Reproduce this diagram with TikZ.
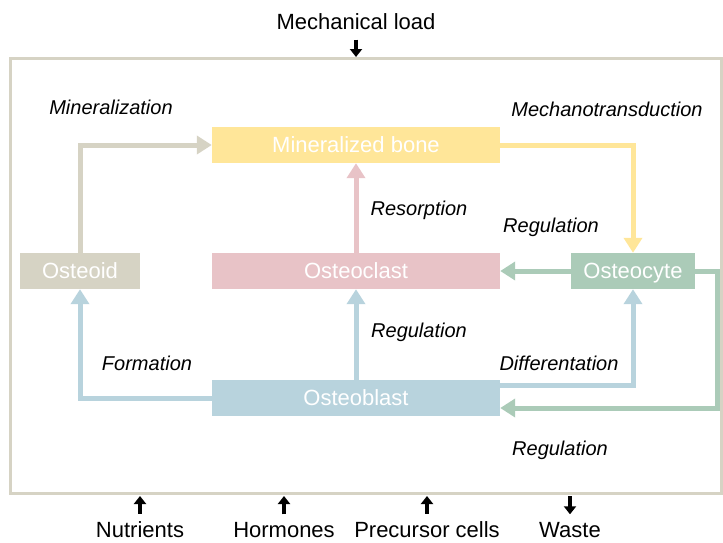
\documentclass[tikz,border=0pt]{standalone}
\usepackage{fontspec}
\setmainfont{Liberation Sans}
\usetikzlibrary{arrows.meta,positioning,calc}
\definecolor{oidcol}{HTML}{D6D3C4}
\definecolor{bonecol}{HTML}{FFE699}
\definecolor{clastcol}{HTML}{E8C3C7}
\definecolor{cytecol}{HTML}{ABCBB8}
\definecolor{blastcol}{HTML}{B8D3DD}

\begin{document}
\begin{tikzpicture}[x=1pt,y=-1pt,font=\fontsize{22}{26}\selectfont,
  cell/.style={minimum height=36pt,inner sep=0pt,text=white,text height=15.8pt,text depth=0pt},
  flow/.style={line width=5pt,-{Triangle[width=18pt,length=15pt]}},
  ext/.style={line width=4.5pt,-{Triangle[width=12pt,length=8pt]}},
  lbl/.style={font=\fontsize{20}{24}\selectfont\itshape}]
  \useasboundingbox (0,0) rectangle (723,542);
  % Frame and outside
  \draw[oidcol,line width=3pt] (10,58) rectangle (721,493);
  \node (load) at (356,22) {Mechanical load};
  \coordinate (loadin) at (356,57);
  \draw[ext,shorten <=6pt] (load.south) -- (loadin);
  \foreach \n/\x/\t in {nutr/140/Nutrients,horm/284/Hormones,prec/427/Precursor cells} {
    \node (\n) at (\x,530) {\t};
    \coordinate (\n in) at (\x,496);
    \draw[ext,shorten <=4.5pt] (\n.north) -- (\n in);
  }
  \node (waste) at (570,530) {Waste};
  \coordinate (wasteout) at (570,496);
  \draw[ext,shorten >=4.5pt] (wasteout) -- (waste.north);
  % Cells
  \node[cell,fill=bonecol,minimum width=288pt] (bone) at (356,145) {Mineralized bone};
  \node[cell,fill=oidcol,minimum width=120pt] (osteoid) at (80,271) {Osteoid};
  \node[cell,fill=clastcol,minimum width=288pt] (clast) at (356,271) {Osteoclast};
  \node[cell,fill=cytecol,minimum width=124pt] (cyte) at (633,271) {Osteocyte};
  \node[cell,fill=blastcol,minimum width=288pt] (blast) at (356,398) {Osteoblast};
  % Connectors
  \draw[flow,oidcol] (osteoid.north) |- (bone.west);
  \draw[flow,bonecol] (bone.east) -| (cyte.north);
  \draw[flow,clastcol] (clast.north) -- (bone.south);
  \draw[flow,blastcol] (blast.north) -- (clast.south);
  \draw[flow,cytecol] (cyte.west) -- (clast.east);
  \draw[flow,blastcol] (blast.west) -| (osteoid.south);
  \draw[flow,blastcol] ([yshift=13pt]blast.east) -| (cyte.south);
  \draw[flow,cytecol] (cyte.east) -- ++(22,0) |- ([yshift=-10pt]blast.east);
  % Labels
  \node[lbl] at (111,107) {Mineralization};
  \node[lbl] at (607,109) {Mechanotransduction};
  \node[lbl] at (419,210) {Resorption};
  \node[lbl] at (551,227) {Regulation};
  \node[lbl] at (419,332) {Regulation};
  \node[lbl] at (147,363) {Formation};
  \node[lbl] at (559,363) {Differentation};
  \node[lbl] at (560,450) {Regulation};
\end{tikzpicture}
\end{document}
